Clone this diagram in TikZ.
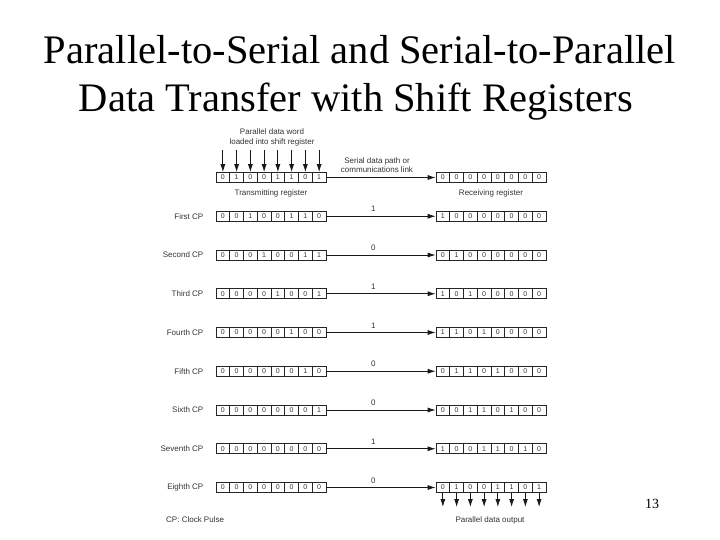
\documentclass[tikz,border=0pt]{standalone}
\usepackage{fontspec}
\setmainfont{Liberation Serif}
\newfontfamily\dsans{Liberation Sans}
\usetikzlibrary{arrows.meta}
\tikzset{
  cell/.style={draw=black!85, line width=0.7pt, minimum width=13.75pt, minimum height=10pt, inner sep=0pt, font=\dsans\fontsize{7}{8}\selectfont, text=black!80},
  lab/.style={font=\dsans\fontsize{8}{9.5}\selectfont, text=black!80, inner sep=0pt},
  arr/.style={line width=0.8pt, draw=black!90, -{Latex[length=8pt,width=5pt]}},
  titletext/.style={font=\fontsize{40.5}{48}\selectfont, inner sep=0pt, anchor=base}
}
\newcommand\myreg[4]{%
  \foreach \b [count=\i] in {#4} {\node[cell] (#1-\i) at ({#2+\i*13.75-6.875}, #3) {\b};}%
}
\begin{document}
\begin{tikzpicture}[x=1pt,y=-1pt]
\useasboundingbox (0,0) rectangle (720,540);
% title
\node[titletext] (title1) at (360,64) {Parallel-to-Serial and Serial-to-Parallel};
\node[titletext] (title2) at (356,112) {Data Transfer with Shift Registers};
\node[font=\fontsize{14}{16}\selectfont, inner sep=0pt] (page) at (652,504) {13};
% top labels
\node[lab, align=center] (pdw) at (272,137.5) {Parallel data word\\loaded into shift register};
\node[lab, align=center] (sdp) at (377,165) {Serial data path or\\communications link};
% registers
\myreg{t0}{216}{177.5}{0,1,0,0,1,1,0,1}
\myreg{r0}{436}{177.5}{0,0,0,0,0,0,0,0}
\node[lab] (txl) at (271,193) {Transmitting register};
\node[lab] (rxl) at (491,193) {Receiving register};
\foreach \i in {1,...,8} {
  \coordinate (in\i) at ({216+\i*13.75-6.875},150);
  \draw[arr] (in\i) -- (t0-\i.north);
}
\draw[arr] (t0-8.east) -- (r0-1.west);
% rows
\myreg{t1}{216}{216.25}{0,0,1,0,0,1,1,0}
\myreg{r1}{436}{216.25}{1,0,0,0,0,0,0,0}
\myreg{t2}{216}{255}{0,0,0,1,0,0,1,1}
\myreg{r2}{436}{255}{0,1,0,0,0,0,0,0}
\myreg{t3}{216}{293.75}{0,0,0,0,1,0,0,1}
\myreg{r3}{436}{293.75}{1,0,1,0,0,0,0,0}
\myreg{t4}{216}{332.5}{0,0,0,0,0,1,0,0}
\myreg{r4}{436}{332.5}{1,1,0,1,0,0,0,0}
\myreg{t5}{216}{371.25}{0,0,0,0,0,0,1,0}
\myreg{r5}{436}{371.25}{0,1,1,0,1,0,0,0}
\myreg{t6}{216}{410}{0,0,0,0,0,0,0,1}
\myreg{r6}{436}{410}{0,0,1,1,0,1,0,0}
\myreg{t7}{216}{448.75}{0,0,0,0,0,0,0,0}
\myreg{r7}{436}{448.75}{1,0,0,1,1,0,1,0}
\myreg{t8}{216}{487.5}{0,0,0,0,0,0,0,0}
\myreg{r8}{436}{487.5}{0,1,0,0,1,1,0,1}
\foreach \r/\name/\bit in {1/First/1,2/Second/0,3/Third/1,4/Fourth/1,5/Fifth/0,6/Sixth/0,7/Seventh/1,8/Eighth/0} {
  \node[lab, anchor=east] (cp\r) at (203.5,{177.5+\r*38.75}) {\name\ CP};
  \draw[arr] (t\r-8.east) -- node[lab, pos=0.43, above=4pt] (bit\r) {\bit} (r\r-1.west);
}
% outputs
\foreach \i in {1,...,8} {
  \coordinate (out\i) at ({436+\i*13.75-6.875},507);
  \draw[arr] (r8-\i.south) -- (out\i);
}
\node[lab] (pdo) at (490,520) {Parallel data output};
\node[lab, anchor=west] (cpkey) at (166,520) {CP: Clock Pulse};
\end{tikzpicture}
\end{document}
